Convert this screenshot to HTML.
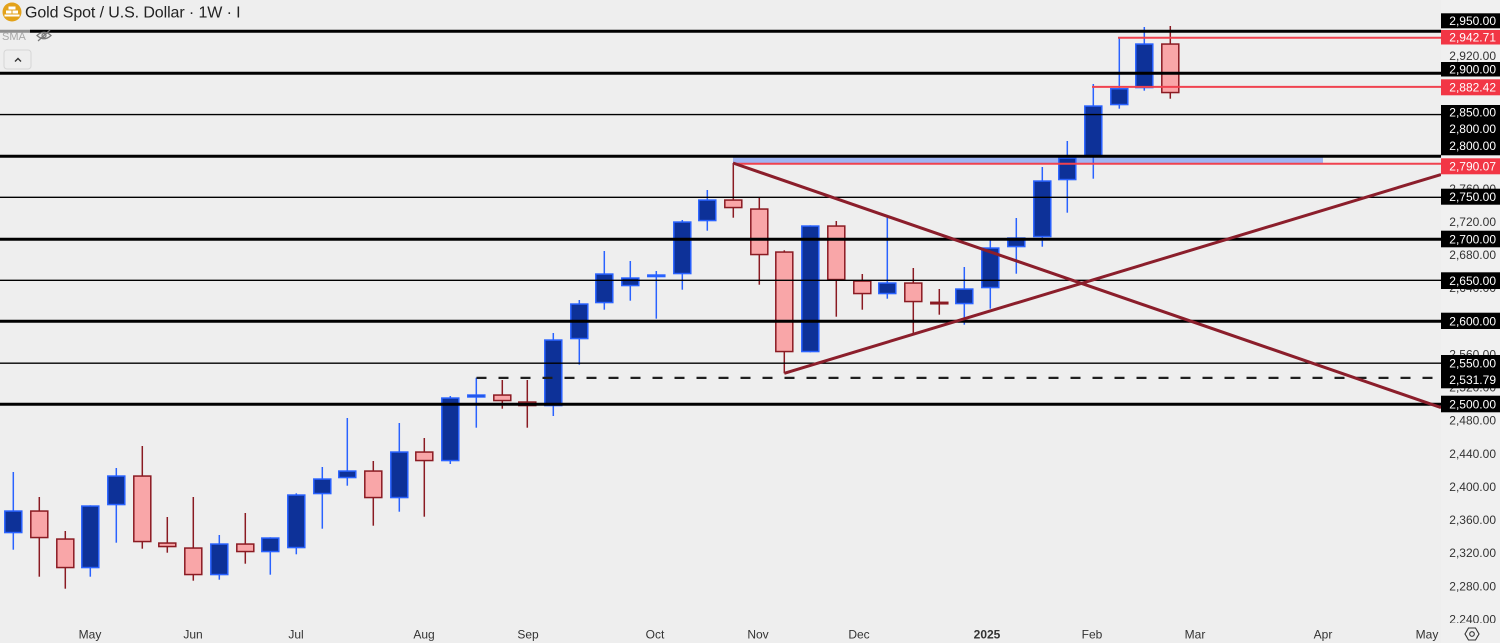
<!DOCTYPE html>
<html><head><meta charset="utf-8">
<style>
html,body{margin:0;padding:0;background:#eeeeee;}
svg{display:block;font-family:"Liberation Sans",sans-serif;}
.wu{stroke:#2962ff;stroke-width:1.5}
.wd{stroke:#8a1a22;stroke-width:1.5}
.bu{fill:#0d3198;stroke:#2962ff;stroke-width:1.5}
.bd{fill:#f9a6a8;stroke:#8a1a22;stroke-width:1.5}
.thick{stroke:#000;stroke-width:3}
.thin{stroke:#000;stroke-width:1.4}
.pl{font-size:12px;fill:#333;text-anchor:end}
.lb{font-size:12px;fill:#fff;text-anchor:end}
.tl{font-size:12px;fill:#333;text-anchor:middle}
</style></head>
<body>
<svg width="1500" height="643" viewBox="0 0 1500 643" xmlns="http://www.w3.org/2000/svg">
<rect x="0" y="0" width="1500" height="643" fill="#eeeeee"/>
<rect x="1441" y="0" width="59" height="643" fill="#f0f0f0"/>

<defs><clipPath id="ch"><rect x="0" y="0" width="1441" height="624"/></clipPath>
<clipPath id="ax"><rect x="1441" y="0" width="59" height="623"/></clipPath></defs>

<g clip-path="url(#ch)">
<!-- blue band -->
<rect x="733" y="157.3" width="590" height="5.8" fill="#9fb4f2"/>

<!-- candles -->
<line class="wu" x1="13.3" x2="13.3" y1="472" y2="549.7"/><rect class="bu" x="4.8" y="511.05" width="17" height="21.5"/>
<line class="wd" x1="39.3" x2="39.3" y1="497" y2="576.7"/><rect class="bd" x="30.8" y="511.05" width="17" height="26.5"/>
<line class="wd" x1="65.3" x2="65.3" y1="531" y2="588.7"/><rect class="bd" x="56.8" y="539.05" width="17" height="28.5"/>
<line class="wu" x1="90.3" x2="90.3" y1="505.3" y2="576.7"/><rect class="bu" x="81.8" y="506.05" width="17" height="61.5"/>
<line class="wu" x1="116.3" x2="116.3" y1="468" y2="542.7"/><rect class="bu" x="107.8" y="476.05" width="17" height="28.5"/>
<line class="wd" x1="142.3" x2="142.3" y1="446" y2="548.7"/><rect class="bd" x="133.8" y="476.05" width="17" height="65.5"/>
<line class="wd" x1="167.3" x2="167.3" y1="517" y2="552.7"/><rect class="bd" x="158.8" y="543.05" width="17" height="3.5"/>
<line class="wd" x1="193.3" x2="193.3" y1="497" y2="580.7"/><rect class="bd" x="184.8" y="548.05" width="17" height="26.5"/>
<line class="wu" x1="219.3" x2="219.3" y1="535" y2="579.7"/><rect class="bu" x="210.8" y="544.05" width="17" height="30.5"/>
<line class="wd" x1="245.3" x2="245.3" y1="513" y2="563.7"/><rect class="bd" x="236.8" y="544.05" width="17" height="7.5"/>
<line class="wu" x1="270.3" x2="270.3" y1="537.3" y2="574.7"/><rect class="bu" x="261.8" y="538.05" width="17" height="13.5"/>
<line class="wu" x1="296.3" x2="296.3" y1="493.3" y2="554.3"/><rect class="bu" x="287.8" y="495.05" width="17" height="52.5"/>
<line class="wu" x1="322.3" x2="322.3" y1="467" y2="528.7"/><rect class="bu" x="313.8" y="479.05" width="17" height="14.5"/>
<line class="wu" x1="347.3" x2="347.3" y1="418" y2="485.7"/><rect class="bu" x="338.8" y="471.05" width="17" height="6.5"/>
<line class="wd" x1="373.3" x2="373.3" y1="461" y2="525.7"/><rect class="bd" x="364.8" y="471.05" width="17" height="26.5"/>
<line class="wu" x1="399.3" x2="399.3" y1="423" y2="511.7"/><rect class="bu" x="390.8" y="452.05" width="17" height="45.5"/>
<line class="wd" x1="424.3" x2="424.3" y1="438" y2="516.7"/><rect class="bd" x="415.8" y="452.05" width="17" height="8.5"/>
<line class="wu" x1="450.3" x2="450.3" y1="396" y2="464"/><rect class="bu" x="441.8" y="398.05" width="17" height="62.5"/>
<line class="wu" x1="476.3" x2="476.3" y1="377.7" y2="427.7"/><rect class="bu" x="467.8" y="395.05" width="17" height="1.9"/>
<line class="wd" x1="502.3" x2="502.3" y1="380" y2="408.7"/><rect class="bd" x="493.8" y="395.05" width="17" height="5.5"/>
<line class="wd" x1="527.3" x2="527.3" y1="380" y2="427.7"/><rect class="bd" x="518.8" y="402.05" width="17" height="3.5"/>
<line class="wu" x1="553.3" x2="553.3" y1="333" y2="416"/><rect class="bu" x="544.8" y="340.05" width="17" height="65.5"/>
<line class="wu" x1="579.3" x2="579.3" y1="300" y2="364.7"/><rect class="bu" x="570.8" y="304.05" width="17" height="34.5"/>
<line class="wu" x1="604.3" x2="604.3" y1="251" y2="309.7"/><rect class="bu" x="595.8" y="274.05" width="17" height="28.5"/>
<line class="wu" x1="630.3" x2="630.3" y1="261" y2="300.7"/><rect class="bu" x="621.8" y="278.05" width="17" height="7.5"/>
<line class="wu" x1="656.3" x2="656.3" y1="271" y2="318.7"/><rect class="bu" x="647.8" y="275.05" width="17" height="1.5"/>
<line class="wu" x1="682.3" x2="682.3" y1="220" y2="289.7"/><rect class="bu" x="673.8" y="222.05" width="17" height="51.5"/>
<line class="wu" x1="707.3" x2="707.3" y1="190" y2="230.7"/><rect class="bu" x="698.8" y="200.05" width="17" height="20.5"/>
<line class="wd" x1="733.3" x2="733.3" y1="163" y2="217.7"/><rect class="bd" x="724.8" y="200.05" width="17" height="7.5"/>
<line class="wd" x1="759.3" x2="759.3" y1="197.3" y2="284.7"/><rect class="bd" x="750.8" y="209.05" width="17" height="45.5"/>
<line class="wd" x1="784.3" x2="784.3" y1="250.3" y2="373.3"/><rect class="bd" x="775.8" y="252.05" width="17" height="99.5"/>
<line class="wu" x1="810.3" x2="810.3" y1="225.3" y2="352.3"/><rect class="bu" x="801.8" y="226.05" width="17" height="125.5"/>
<line class="wd" x1="836.3" x2="836.3" y1="221" y2="316.7"/><rect class="bd" x="827.8" y="226.05" width="17" height="53.5"/>
<line class="wd" x1="862.3" x2="862.3" y1="274" y2="309.7"/><rect class="bd" x="853.8" y="281.05" width="17" height="12.5"/>
<line class="wu" x1="887.3" x2="887.3" y1="216.7" y2="298.7"/><rect class="bu" x="878.8" y="283.05" width="17" height="10.5"/>
<line class="wd" x1="913.3" x2="913.3" y1="268" y2="333"/><rect class="bd" x="904.8" y="283.05" width="17" height="18.5"/>
<line class="wd" x1="939.3" x2="939.3" y1="289" y2="314.7"/><rect class="bd" x="930.8" y="302.3" width="17" height="1.5"/>
<line class="wu" x1="964.3" x2="964.3" y1="267" y2="324.7"/><rect class="bu" x="955.8" y="289.05" width="17" height="14.5"/>
<line class="wu" x1="990.3" x2="990.3" y1="240" y2="308.7"/><rect class="bu" x="981.8" y="248.05" width="17" height="39.5"/>
<line class="wu" x1="1016.3" x2="1016.3" y1="218" y2="273.7"/><rect class="bu" x="1007.8" y="238.05" width="17" height="8.5"/>
<line class="wu" x1="1042.3" x2="1042.3" y1="167" y2="246.7"/><rect class="bu" x="1033.8" y="181.05" width="17" height="55.5"/>
<line class="wu" x1="1067.3" x2="1067.3" y1="141" y2="212.7"/><rect class="bu" x="1058.8" y="158.05" width="17" height="21.5"/>
<line class="wu" x1="1093.3" x2="1093.3" y1="84" y2="178.7"/><rect class="bu" x="1084.8" y="106.05" width="17" height="50.5"/>
<line class="wu" x1="1119.3" x2="1119.3" y1="37.7" y2="108.7"/><rect class="bu" x="1110.8" y="88.75" width="17" height="15.8"/>
<line class="wu" x1="1144.3" x2="1144.3" y1="27" y2="90.7"/><rect class="bu" x="1135.8" y="44.05" width="17" height="43.5"/>
<line class="wd" x1="1170.3" x2="1170.3" y1="26" y2="98.7"/><rect class="bd" x="1161.8" y="44.05" width="17" height="48.5"/>

<!-- horizontal levels -->
<line class="thick" x1="0" x2="1441" y1="31.2" y2="31.2"/>
<line class="thick" x1="0" x2="1441" y1="73.2" y2="73.2"/>
<line class="thin" x1="0" x2="1441" y1="114.6" y2="114.6"/>
<line class="thick" x1="0" x2="1441" y1="156.3" y2="156.3"/>
<line class="thin" x1="0" x2="1441" y1="197.3" y2="197.3"/>
<line class="thick" x1="0" x2="1441" y1="239.3" y2="239.3"/>
<line class="thin" x1="0" x2="1441" y1="280.3" y2="280.3"/>
<line class="thick" x1="0" x2="1441" y1="321.3" y2="321.3"/>
<line class="thin" x1="0" x2="1441" y1="363.2" y2="363.2"/>
<line class="thick" x1="0" x2="1441" y1="404.3" y2="404.3"/>
<line x1="476.5" x2="1441" y1="377.9" y2="377.9" stroke="#1e1e1e" stroke-width="2.2" stroke-dasharray="10,12"/>

<!-- red levels -->
<line x1="1118" x2="1441" y1="37.8" y2="37.8" stroke="#f0424f" stroke-width="2"/>
<line x1="1092" x2="1441" y1="86.9" y2="86.9" stroke="#f0424f" stroke-width="2"/>
<line x1="733" x2="1441" y1="163.8" y2="163.8" stroke="#f0424f" stroke-width="2"/>

<!-- trend lines -->
<line x1="733" y1="163" x2="1441" y2="407.6" stroke="#8b1e2b" stroke-width="3"/>
<line x1="784.3" y1="373.3" x2="1441" y2="174.5" stroke="#8b1e2b" stroke-width="3"/>
</g>

<!-- price axis gray labels -->
<g clip-path="url(#ax)">
<text class="pl" x="1496" y="60">2,920.00</text>
<text class="pl" x="1496" y="192.8">2,760.00</text>
<text class="pl" x="1496" y="226">2,720.00</text>
<text class="pl" x="1496" y="259">2,680.00</text>
<text class="pl" x="1496" y="292.2">2,640.00</text>
<text class="pl" x="1496" y="358.4">2,560.00</text>
<text class="pl" x="1496" y="391.5">2,520.00</text>
<text class="pl" x="1496" y="424.7">2,480.00</text>
<text class="pl" x="1496" y="457.8">2,440.00</text>
<text class="pl" x="1496" y="490.9">2,400.00</text>
<text class="pl" x="1496" y="524.1">2,360.00</text>
<text class="pl" x="1496" y="557.1">2,320.00</text>
<text class="pl" x="1496" y="590.3">2,280.00</text>
<text class="pl" x="1496" y="623.5">2,240.00</text>
</g>

<!-- price axis boxed labels -->
<rect x="1441" y="13.3" width="59" height="15" fill="#000"/>
<text class="lb" x="1496" y="25">2,950.00</text>
<rect x="1441" y="30" width="59" height="14.5" fill="#f23645"/>
<text class="lb" x="1496" y="41.5">2,942.71</text>
<rect x="1441" y="62" width="59" height="14.5" fill="#000"/>
<text class="lb" x="1496" y="73.5">2,900.00</text>
<rect x="1441" y="79.3" width="59" height="16" fill="#f23645"/>
<text class="lb" x="1496" y="91.6">2,882.42</text>
<rect x="1441" y="105" width="59" height="50.3" fill="#000"/>
<text class="lb" x="1496" y="116.6">2,850.00</text>
<text class="lb" x="1496" y="132.8">2,800.00</text>
<text class="lb" x="1496" y="150">2,800.00</text>
<rect x="1441" y="158.3" width="59" height="16" fill="#f23645"/>
<text class="lb" x="1496" y="170.6">2,790.07</text>
<rect x="1441" y="188.7" width="59" height="16" fill="#000"/>
<text class="lb" x="1496" y="201">2,750.00</text>
<rect x="1441" y="230.7" width="59" height="16.6" fill="#000"/>
<text class="lb" x="1496" y="243.3">2,700.00</text>
<rect x="1441" y="272.3" width="59" height="16.7" fill="#000"/>
<text class="lb" x="1496" y="285">2,650.00</text>
<rect x="1441" y="312.7" width="59" height="16.3" fill="#000"/>
<text class="lb" x="1496" y="325.3">2,600.00</text>
<rect x="1441" y="355" width="59" height="33.3" fill="#000"/>
<text class="lb" x="1496" y="367.3">2,550.00</text>
<text class="lb" x="1496" y="384">2,531.79</text>
<rect x="1441" y="395.7" width="59" height="16.6" fill="#000"/>
<text class="lb" x="1496" y="408.3">2,500.00</text>

<!-- time axis -->
<text class="tl" x="90" y="638.5">May</text>
<text class="tl" x="193" y="638.5">Jun</text>
<text class="tl" x="296" y="638.5">Jul</text>
<text class="tl" x="424" y="638.5">Aug</text>
<text class="tl" x="528" y="638.5">Sep</text>
<text class="tl" x="655" y="638.5">Oct</text>
<text class="tl" x="758" y="638.5">Nov</text>
<text class="tl" x="859" y="638.5">Dec</text>
<text class="tl" x="987" y="638.5" font-weight="bold">2025</text>
<text class="tl" x="1092" y="638.5">Feb</text>
<text class="tl" x="1195" y="638.5">Mar</text>
<text class="tl" x="1323" y="638.5">Apr</text>
<text class="tl" x="1427" y="638.5">May</text>
<polygon points="1465,634 1468.5,628 1475.5,628 1479,634 1475.5,640 1468.5,640" fill="none" stroke="#333" stroke-width="1.1"/>
<circle cx="1472" cy="634" r="2.3" fill="none" stroke="#333" stroke-width="1.1"/>

<!-- header -->
<circle cx="12" cy="12" r="9.5" fill="#e3a21a"/>
<rect x="8.5" y="6.5" width="7" height="3" fill="#fff"/>
<rect x="6" y="10.5" width="5.5" height="3" fill="#fff"/>
<rect x="12.5" y="10.5" width="5.5" height="3" fill="#fff"/>
<rect x="4.5" y="14.5" width="15" height="2" fill="#fff"/>
<text x="25" y="17.5" font-size="16" fill="#222" letter-spacing="-0.1">Gold Spot / U.S. Dollar · 1W · I</text>

<rect x="0" y="29" width="30" height="13" fill="#eeeeee" fill-opacity="0.6"/>
<text x="2" y="40" font-size="11" fill="#a8a8a8">SMA</text>
<g stroke="#777" stroke-width="1.2" fill="none">
<path d="M37,35.5 Q44,29 51,35.5 Q44,42 37,35.5 Z"/>
<circle cx="44" cy="35.5" r="2"/>
<line x1="38" y1="41" x2="50" y2="30"/>
</g>
<rect x="4" y="50" width="27" height="19" rx="3" fill="#eeeeee" stroke="#d6d6d6" stroke-width="1"/>
<path d="M15,61.5 L18,58.5 L21,61.5" fill="none" stroke="#333" stroke-width="1.4"/>
</svg>
</body></html>
